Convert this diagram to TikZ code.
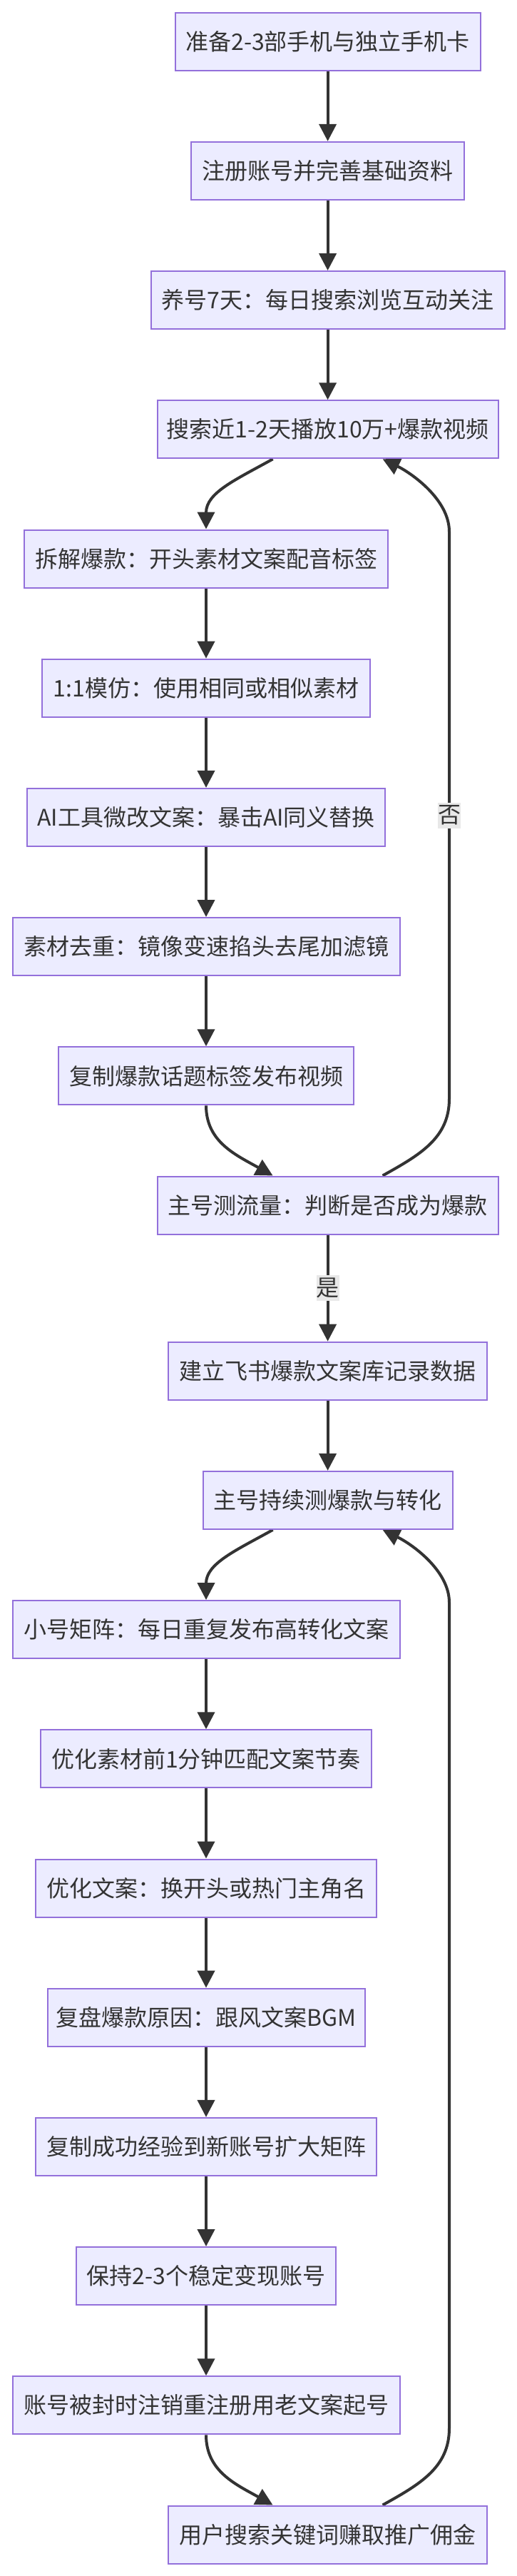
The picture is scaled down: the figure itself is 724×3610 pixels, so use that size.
\documentclass[tikz,border=0pt]{standalone}
\usepackage{fontspec}
\setmainfont{Noto Sans CJK SC}
\usetikzlibrary{arrows.meta}
\definecolor{nodefill}{HTML}{ECECFF}
\definecolor{nodeline}{HTML}{9370DB}
\definecolor{edgecol}{HTML}{333333}
\definecolor{txtcol}{HTML}{333333}
\definecolor{lblbg}{HTML}{E8E8E8}
\pgfdeclarelayer{edgelayer}
\pgfsetlayers{edgelayer,main}
\tikzset{
  stepbox/.style={draw=nodeline, line width=2pt, fill=nodefill, minimum height=81pt,
    inner sep=0pt, text=txtcol, font=\fontsize{32pt}{38pt}\selectfont},
  flow/.style={draw=edgecol, line width=4pt, -{Triangle[length=24pt,width=24pt]}},
  lbl/.style={fill=lblbg, text=txtcol, inner sep=0pt, minimum width=32pt,
    minimum height=36pt, font=\fontsize{32pt}{38pt}\selectfont},
}
\begin{document}
\begin{tikzpicture}[x=1pt,y=-1pt]
\useasboundingbox (0,0) rectangle (724,3610);
% nodes
\node[stepbox, minimum width=428pt] (n1) at (459.6,58.2) {准备2-3部手机与独立手机卡};
\node[stepbox, minimum width=383pt] (n2) at (459.6,239.4) {注册账号并完善基础资料};
\node[stepbox, minimum width=496pt] (n3) at (459.6,420.6) {养号7天：每日搜索浏览互动关注};
\node[stepbox, minimum width=478pt] (n4) at (459.6,601.8) {搜索近1-2天播放10万+爆款视频};
\node[stepbox, minimum width=510pt] (n5) at (289,783.0) {拆解爆款：开头素材文案配音标签};
\node[stepbox, minimum width=460pt] (n6) at (289,964.2) {1:1模仿：使用相同或相似素材};
\node[stepbox, minimum width=502pt] (n7) at (289,1145.4) {AI工具微改文案：暴击AI同义替换};
\node[stepbox, minimum width=543pt] (n8) at (289,1326.6) {素材去重：镜像变速掐头去尾加滤镜};
\node[stepbox, minimum width=414pt] (n9) at (289,1507.8) {复制爆款话题标签发布视频};
\node[stepbox, minimum width=478pt] (n10) at (459.6,1689.0) {主号测流量：判断是否成为爆款};
\node[stepbox, minimum width=447pt] (n11) at (459.6,1921.2) {建立飞书爆款文案库记录数据};
\node[stepbox, minimum width=350pt] (n12) at (459.6,2102.4) {主号持续测爆款与转化};
\node[stepbox, minimum width=543pt] (n13) at (289,2283.6) {小号矩阵：每日重复发布高转化文案};
\node[stepbox, minimum width=464pt] (n14) at (289,2464.8) {优化素材前1分钟匹配文案节奏};
\node[stepbox, minimum width=478pt] (n15) at (289,2646.0) {优化文案：换开头或热门主角名};
\node[stepbox, minimum width=445pt] (n16) at (289,2827.2) {复盘爆款原因：跟风文案BGM};
\node[stepbox, minimum width=478pt] (n17) at (289,3008.4) {复制成功经验到新账号扩大矩阵};
\node[stepbox, minimum width=364pt] (n18) at (289,3189.6) {保持2-3个稳定变现账号};
\node[stepbox, minimum width=543pt] (n19) at (289,3370.8) {账号被封时注销重注册用老文案起号};
\node[stepbox, minimum width=447pt] (n20) at (459.6,3552.0) {用户搜索关键词赚取推广佣金};
% edges
\begin{pgfonlayer}{edgelayer}
\draw[flow] (n1.south) -- (n2.north);
\draw[flow] (n2.south) -- (n3.north);
\draw[flow] (n3.south) -- (n4.north);
\draw[flow] ([xshift=-77pt]n4.south) .. controls (330.6,672.3) and (289,690.3) .. (n5.north);
\draw[flow] (n5.south) -- (n6.north);
\draw[flow] (n6.south) -- (n7.north);
\draw[flow] (n7.south) -- (n8.north);
\draw[flow] (n8.south) -- (n9.north);
\draw[flow] (n9.south) .. controls (289,1600) and (330.6,1618.5) .. ([xshift=-77pt]n10.north);
\draw[flow] ([xshift=77pt]n10.north) .. controls (588.6,1618.5) and (630,1595) .. (630,1540)
  -- node[lbl] (lno) {否} (630,745) .. controls (630,700) and (577,663) .. ([xshift=77pt]n4.south);
\draw[flow] (n10.south) -- node[lbl] (lyes) {是} (n11.north);
\draw[flow] (n11.south) -- (n12.north);
\draw[flow] ([xshift=-77pt]n12.south) .. controls (330.6,2172.9) and (289,2190.9) .. (n13.north);
\draw[flow] (n13.south) -- (n14.north);
\draw[flow] (n14.south) -- (n15.north);
\draw[flow] (n15.south) -- (n16.north);
\draw[flow] (n16.south) -- (n17.north);
\draw[flow] (n17.south) -- (n18.north);
\draw[flow] (n18.south) -- (n19.north);
\draw[flow] (n19.south) .. controls (289,3463) and (330.6,3481.5) .. ([xshift=-77pt]n20.north);
\draw[flow] ([xshift=77pt]n20.north) .. controls (588.6,3481.5) and (630,3458) .. (630,3403)
  -- (630,2245.6) .. controls (630,2200.6) and (577,2163.6) .. ([xshift=77pt]n12.south);
\end{pgfonlayer}
\end{tikzpicture}
\end{document}
